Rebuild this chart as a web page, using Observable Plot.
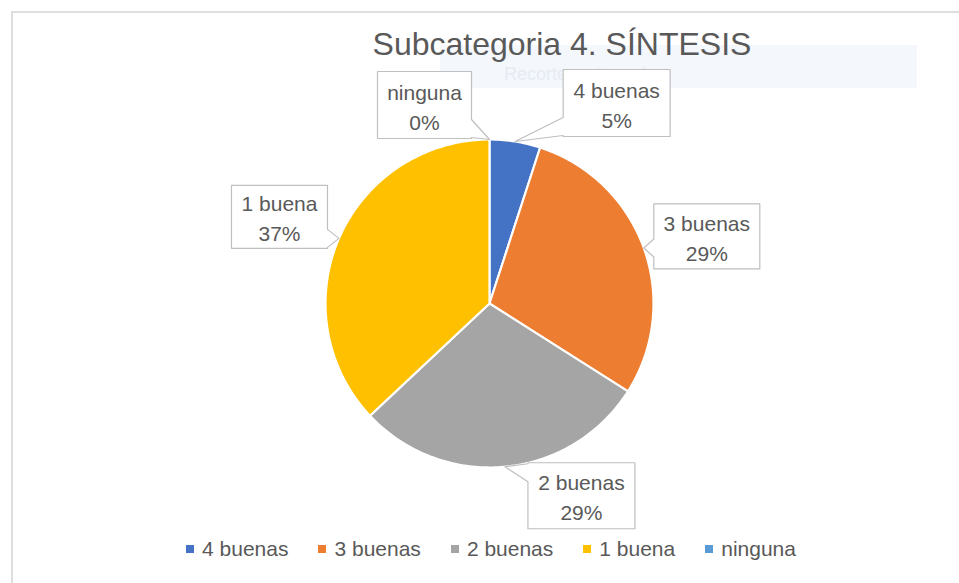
<!DOCTYPE html>
<html>
<head>
<meta charset="utf-8">
<script src="https://cdn.jsdelivr.net/npm/d3@7"></script>
<script src="https://cdn.jsdelivr.net/npm/@observablehq/plot@0.6"></script>
<style>
  html, body { margin: 0; padding: 0; background: #fff; }
  #wrap { position: relative; width: 959px; height: 583px; overflow: hidden; background: #fff;
          font-family: "Liberation Sans", Arial, sans-serif; }
  #border { position: absolute; left: 11px; top: 11px; width: 960px; height: 600px;
            border-left: 2px solid #dedede; border-top: 2px solid #dedede; box-sizing: border-box; }
  #overlay { position: absolute; left: 440px; top: 45px; width: 477px; height: 43px; background: #f4f7fc; }
  #overlay span { position: absolute; left: 64px; top: 19px; font-size: 18px; line-height: 20px; color: #e6ebf3; }
  #title { position: absolute; left: 312px; width: 500px; top: 28px; line-height: 32px; font-size: 32px;
           text-align: center; color: #595959; white-space: nowrap; }
  #chart { position: absolute; left: 0; top: 0; }
  #legend { position: absolute; left: 0; width: 982px; top: 537px; height: 24px; display: flex;
            justify-content: center; align-items: center; gap: 30px; font-size: 21px; color: #595959; }
  #legend .item { display: flex; align-items: center; gap: 8px; white-space: nowrap; }
  #legend .sw { width: 8px; height: 8px; display: inline-block; }
</style>
</head>
<body>
<div id="wrap">
  <div id="border"></div>
  <div id="overlay"><span>Recorte rectangular</span></div>
  <div id="chart"></div>
  <div id="title"></div>
  <div id="legend"></div>
</div>
<script>
// ---- data ----
const title = "Subcategoria 4. SÍNTESIS";
const categories = ["4 buenas", "3 buenas", "2 buenas", "1 buena", "ninguna"];
const percents = [5, 29, 29, 37, 0];
const colors = ["#4472C4", "#ED7D31", "#A5A5A5", "#FFC000", "#5B9BD5"];

// ---- layout (pixels) ----
const CX = 489, CY = 303, R = 164;
// callout box centre offset from its pointer tip, and box size
const calloutLayout = {
  "4 buenas": {dx: 101.5, dy: -38.5, w: 107, h: 67},
  "3 buenas": {dx: 63,    dy: -11.5, w: 106, h: 65},
  "2 buenas": {dx: 76.5,  dy: 29,    w: 107, h: 66},
  "1 buena":  {dx: -59.5, dy: -21.5, w: 96,  h: 63},
  "ninguna":  {dx: -65,   dy: -34.5, w: 94,  h: 67}
};

const data = categories.map((c, i) => ({cat: c, value: percents[i]}));
const arcs = d3.pie().sort(null).value(d => d.value)(data);

// slice outlines on the unit circle (angle 0 at 12 o'clock, clockwise)
const slicePts = [];
arcs.forEach(a => {
  if (a.data.value <= 0) return;
  const n = Math.max(2, Math.ceil((a.endAngle - a.startAngle) / (Math.PI / 180)));
  slicePts.push({cat: a.data.cat, x: 0, y: 0});
  for (let k = 0; k <= n; k++) {
    const t = a.startAngle + (a.endAngle - a.startAngle) * k / n;
    slicePts.push({cat: a.data.cat, x: Math.sin(t), y: Math.cos(t)});
  }
});

// callouts
const clamp = (v, lo, hi) => Math.max(lo, Math.min(hi, v));
const calloutPts = [];
const labels = [];
arcs.forEach(a => {
  const mid = (a.startAngle + a.endAngle) / 2;
  const tx = Math.sin(mid), ty = Math.cos(mid);
  const L = calloutLayout[a.data.cat];
  const x0 = L.dx - L.w / 2, x1 = L.dx + L.w / 2, y0 = L.dy - L.h / 2, y1 = L.dy + L.h / 2;
  let side = null, ex = 0, ey = 0, sx = null, sy = null;
  if (x0 > 0) { ex = x0; sx = "left"; } else if (x1 < 0) { ex = -x1; sx = "right"; }
  if (y0 > 0) { ey = y0; sy = "top"; } else if (y1 < 0) { ey = -y1; sy = "bottom"; }
  side = ex >= ey ? sx : sy;
  const m = 10, hw = 9;
  let poly = [];
  const cy = clamp(0, y0 + m, y1 - m), cx = clamp(0, x0 + m, x1 - m);
  poly.push([x0, y0]);
  if (side === "top") poly.push([cx - hw, y0], [0, 0], [cx + hw, y0]);
  poly.push([x1, y0]);
  if (side === "right") poly.push([x1, cy - hw], [0, 0], [x1, cy + hw]);
  poly.push([x1, y1]);
  if (side === "bottom") poly.push([cx + hw, y1], [0, 0], [cx - hw, y1]);
  poly.push([x0, y1]);
  if (side === "left") poly.push([x0, cy + hw], [0, 0], [x0, cy - hw]);
  poly.forEach(([px, py]) => calloutPts.push({cat: a.data.cat, x: tx + px / R, y: ty - py / R}));
  labels.push({cat: a.data.cat, value: a.data.value, x: tx + L.dx / R, y: ty - L.dy / R});
});

const plot = Plot.plot({
  width: 959,
  height: 583,
  margin: 0,
  style: {background: "transparent", fontFamily: "'Liberation Sans', Arial, sans-serif"},
  x: {domain: [-1, 1], range: [CX - R, CX + R], axis: null},
  y: {domain: [-1, 1], range: [CY + R, CY - R], axis: null},
  color: {domain: categories, range: colors},
  marks: [
    Plot.line(slicePts, {x: "x", y: "y", z: "cat", fill: "cat", stroke: "white", strokeWidth: 2.2,
                         strokeLinejoin: "round", curve: "linear-closed"}),
    Plot.line(calloutPts, {x: "x", y: "y", z: "cat", fill: "white", stroke: "#bfbfbf", strokeWidth: 1.2,
                           curve: "linear-closed"}),
    Plot.text(labels, {x: "x", y: "y", text: d => `${d.cat}\n${d.value}%`, fontSize: 21, lineHeight: 1.43,
                       fill: "#595959", fontFamily: "'Liberation Sans', Arial, sans-serif"})
  ]
});
document.getElementById("chart").appendChild(plot);

document.getElementById("title").textContent = title;
const legend = document.getElementById("legend");
categories.forEach((c, i) => {
  const it = document.createElement("div");
  it.className = "item";
  const sw = document.createElement("span");
  sw.className = "sw";
  sw.style.background = colors[i];
  const tx = document.createElement("span");
  tx.textContent = c;
  it.appendChild(sw); it.appendChild(tx);
  legend.appendChild(it);
});
</script>
</body>
</html>
